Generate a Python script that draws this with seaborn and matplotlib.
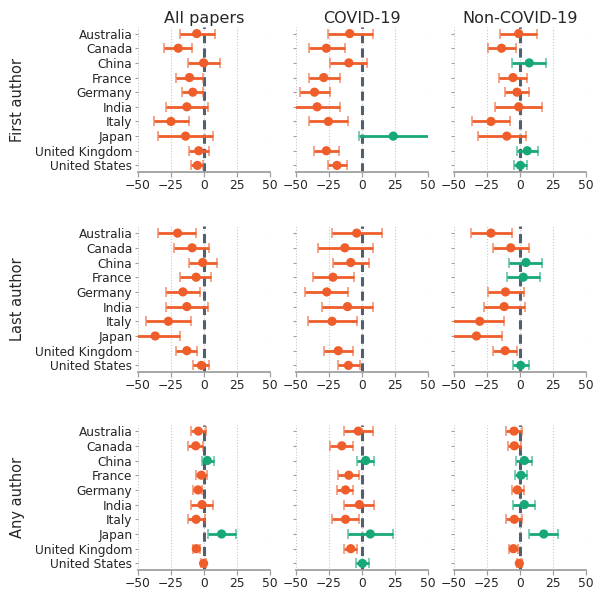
import numpy as np
import pandas as pd
import matplotlib
matplotlib.use("Agg")
import matplotlib.pyplot as plt
import seaborn as sns

countries = ["Australia", "Canada", "China", "France", "Germany", "India",
             "Italy", "Japan", "United Kingdom", "United States"]
col_titles = ["All papers", "COVID-19", "Non-COVID-19"]
row_titles = ["First author", "Last author", "Any author"]
xticks = [-50, -25, 0, 25, 50]

# First author
fa_all_est = [-5.5, -19.5, -0.3, -11, -8.5, -13, -25, -14, -4, -5]
fa_all_lo = [-18, -30, -12, -21, -17, -29, -38, -35, -11, -9.5]
fa_all_hi = [8, -9, 12, -1, -0.5, 3, -11.5, 6.5, 3.5, -0.5]
fa_cov_est = [-9.3, -27, -10, -29, -36, -34, -25.5, 23.7, -27, -19]
fa_cov_lo = [-26, -40, -24, -40, -47, -51, -40, -2, -36, -26]
fa_cov_hi = [8.3, -13, 4, -17, -24, -17, -10.5, 52, -17.5, -11]
fa_non_est = [-1, -14, 7, -5.3, -2.3, -1, -22, -10, 5.5, 0.3]
fa_non_lo = [-15, -24.5, -6, -16, -11, -19, -36, -31.5, -2.5, -4.3]
fa_non_hi = [13, -3.3, 20, 5.3, 6.5, 17, -7.5, 4.3, 14, 5]

# Last author
la_all_est = [-20, -9, -1, -6, -16, -13, -27, -37, -13, -2]
la_all_lo = [-35, -23, -11.5, -18, -28.5, -28.5, -44, -51, -21, -8]
la_all_hi = [-6, 4, 10, 5.5, -3.3, 2.8, -10, -18, -5, 4]
la_cov_est = [-4, -13, -8.5, -22, -26.7, -11, -22.7, np.nan, -18, -10.3]
la_cov_lo = [-23, -33.5, -22, -37.5, -43, -30.5, -41, np.nan, -29, -18.5]
la_cov_hi = [15.5, 8, 5.5, -6, -10.5, 8.5, -4, np.nan, -7, -1.8]
la_non_est = [-22, -7, 4.5, 2.5, -11, -12, -30.5, -33, -11.3, 0.5]
la_non_lo = [-37.5, -20.5, -8, -10, -24, -27.5, -51, -51, -20.5, -5.3]
la_non_hi = [-6, 6.8, 17, 15, 3, 4, -12, -13.5, -2, 6.5]

# Any author
aa_all_est = [-4.3, -6.3, 2.5, -2, -4.5, -1.5, -6, 13.3, -5.8, -0.3]
aa_all_lo = [-10, -12, -1.8, -6, -8, -9.5, -12.3, 3.3, -8.5, -2.5]
aa_all_hi = [1.5, -1, 7.3, 2.3, -1.8, 6.8, 1, 24, -2.8, 1.8]
aa_cov_est = [-2.8, -15.3, 2.8, -10, -12.5, -2, -12.5, 6.3, -8.5, 0.3]
aa_cov_lo = [-13.5, -24, -4, -18, -18.7, -13.3, -23, -10.5, -13.5, -4.5]
aa_cov_hi = [8, -6.8, 9.3, -2.3, -7, 9, -2.3, 23.5, -3.5, 5.3]
aa_non_est = [-4.5, -4.3, 3.3, 0.8, -2, 3.3, -4.3, 18, -5, -0.5]
aa_non_lo = [-10.8, -9.3, -2.8, -3.5, -6.3, -5.3, -10.8, 6.5, -8.5, -2.5]
aa_non_hi = [1.8, 1, 9, 5.3, 2.8, 11.5, 1.8, 28.7, -1.5, 1.8]

panels = [
    [(fa_all_est, fa_all_lo, fa_all_hi), (fa_cov_est, fa_cov_lo, fa_cov_hi), (fa_non_est, fa_non_lo, fa_non_hi)],
    [(la_all_est, la_all_lo, la_all_hi), (la_cov_est, la_cov_lo, la_cov_hi), (la_non_est, la_non_lo, la_non_hi)],
    [(aa_all_est, aa_all_lo, aa_all_hi), (aa_cov_est, aa_cov_lo, aa_cov_hi), (aa_non_est, aa_non_lo, aa_non_hi)],
]

ORANGE = "#ef5e2a"
GREEN = "#17a87a"
ZERO = "#506073"

sns.set_theme(style="white")
plt.rcParams['font.family'] = ['DejaVu Sans']

W, H = 606, 599
fig = plt.figure(figsize=(W / 100, H / 100), dpi=100)

col_left = [138, 296, 454]
col_w = 132
row_top = [27, 226.5, 424.5]
row_bot = [172, 372, 570]

for r in range(3):
    for c in range(3):
        x0 = col_left[c]
        ax = fig.add_axes([x0 / W, 1 - row_bot[r] / H, col_w / W, (row_bot[r] - row_top[r]) / H])
        est, lo, hi = panels[r][c]
        df = pd.DataFrame({"country": countries, "est": est, "lo": lo, "hi": hi})
        df["y"] = np.arange(len(countries))
        df["sign"] = np.where(df["est"] >= 0, "pos", "neg")
        df = df.dropna()
        for _, row in df.iterrows():
            col = GREEN if row["sign"] == "pos" else ORANGE
            el = ax.errorbar(row["est"], row["y"],
                             xerr=[[row["est"] - row["lo"]], [row["hi"] - row["est"]]],
                             fmt="none", ecolor=col, elinewidth=2.0, capsize=3.4,
                             capthick=1.3, zorder=3)
            for cap in el[1]:
                cap.set_alpha(0.6)
        sns.scatterplot(data=df, x="est", y="y", hue="sign",
                        palette={"pos": GREEN, "neg": ORANGE}, s=44,
                        edgecolor="none", legend=False, ax=ax, zorder=4)
        ax.axvline(0, color=ZERO, lw=2.2, ls=(0, (3.0, 1.7)), zorder=2)
        ax.set_xlim(-50, 50)
        ax.set_ylim(9.45, -0.45)
        ax.set_xticks(xticks)
        ax.set_xticklabels(["\u2212" + str(-t) if t < 0 else str(t) for t in xticks],
                           fontsize=8.8, color="#262626")
        ax.set_yticks(range(len(countries)))
        if c == 0:
            ax.set_yticklabels(countries, fontsize=8.7, color="#262626")
        else:
            ax.set_yticklabels([])
        ax.set_xlabel("")
        ax.set_ylabel("")
        ax.grid(axis="x", ls=":", color="#c8c8c8", lw=0.8, zorder=0)
        ax.grid(axis="y", visible=False)
        for s in ["top", "right", "left"]:
            ax.spines[s].set_visible(False)
        ax.spines["bottom"].set_color("#a0a0a0")
        ax.spines["bottom"].set_linewidth(1.3)
        ax.tick_params(axis="x", length=3.5, width=0.9, color="#a0a0a0", pad=1.5, bottom=True)
        ax.tick_params(axis="y", length=2.5, width=0.8, color="#a0a0a0", pad=1.5, left=True)
        if r == 0:
            ax.set_title(col_titles[c], fontsize=11.5, color="#262626", pad=3)
    fig.text(18 / W, 1 - ((row_top[r] + row_bot[r]) / 2) / H, row_titles[r],
             rotation=90, ha="center", va="center", fontsize=10.5, color="#262626")

fig.savefig("out.png", dpi=100)
